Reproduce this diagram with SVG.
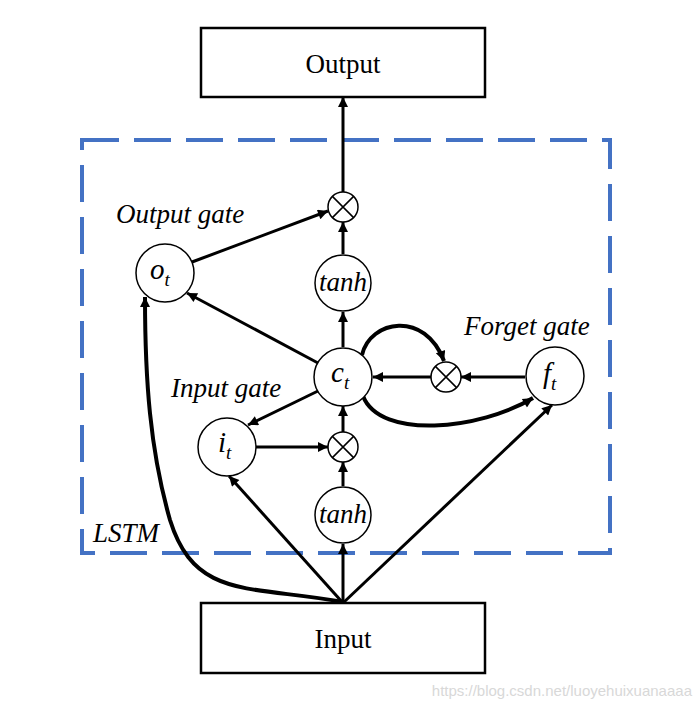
<svg xmlns="http://www.w3.org/2000/svg" width="700" height="708" viewBox="0 0 700 708">
<defs>
<marker id="arr" viewBox="0 0 10 10" refX="10" refY="5" markerWidth="13" markerHeight="10" markerUnits="userSpaceOnUse" orient="auto">
<path d="M0,0 L10,5 L0,10 z" fill="#000"/>
</marker>
<style>
.box{fill:#fff;stroke:#000;stroke-width:2.5}
.nd{fill:#fff;stroke:#000;stroke-width:1.5}
.x{stroke:#000;stroke-width:1.5}
.c{fill:none;stroke:#000;stroke-width:3;marker-end:url(#arr)}
.cb{fill:none;stroke:#000;stroke-width:4;marker-end:url(#arr)}
.t{font-family:"Liberation Serif","Times New Roman",serif;font-size:27px;fill:#000;text-anchor:middle}
.it{font-family:"Liberation Serif","Times New Roman",serif;font-size:27px;font-style:italic;fill:#000}
.nl{font-size:29px}
.sub{font-size:19px}
</style>
</defs>
<rect width="700" height="708" fill="#fff"/>
<g id="lstm">
<rect x="82" y="140" width="528" height="413" fill="none" stroke="#4472C4" stroke-width="4" stroke-dasharray="37 15"/>
<text class="it" x="93" y="542">LSTM</text>
</g>
<g id="connectors">
<line class="c" x1="343" y1="192" x2="343" y2="97"/>
<line class="c" x1="192" y1="262" x2="328" y2="211"/>
<line class="c" x1="343" y1="254" x2="343" y2="222"/>
<line class="c" x1="343" y1="347" x2="343" y2="312"/>
<line class="c" x1="318" y1="363" x2="187" y2="293"/>
<line class="c" x1="318" y1="391" x2="248" y2="425"/>
<line class="c" x1="431" y1="377" x2="373" y2="377"/>
<line class="c" x1="525" y1="377" x2="461" y2="377"/>
<line class="c" x1="256" y1="447" x2="328" y2="447"/>
<line class="c" x1="343" y1="432" x2="343" y2="406"/>
<line class="c" x1="343" y1="486" x2="343" y2="462"/>
<line class="c" x1="343" y1="603" x2="343" y2="544"/>
<line class="c" x1="343" y1="603" x2="229" y2="476"/>
<line class="c" x1="343" y1="603" x2="552" y2="405"/>
<path class="cb" d="M343,602 C250,585 195,600 170,520 C150,450 145,380 145,297"/>
<path class="cb" d="M362,355 C370,320 425,310 444,361"/>
<path class="cb" d="M363,396 C380,440 480,430 533,398"/>
</g>
<g id="output">
<rect class="box" x="201" y="28" width="284" height="69"/>
<text class="t" x="343" y="73">Output</text>
</g>
<g id="input">
<rect class="box" x="201" y="603" width="284" height="70"/>
<text class="t" x="343" y="648">Input</text>
</g>
<g id="mul_out">
<circle class="nd" cx="343" cy="207" r="15"/>
<path class="x" d="M332.4,196.4 L353.6,217.6 M353.6,196.4 L332.4,217.6"/>
</g>
<g id="o_t">
<circle class="nd" cx="165" cy="273" r="29"/>
<text class="it nl" x="150" y="279">o<tspan class="sub" dy="7">t</tspan></text>
</g>
<g id="output_gate_label"><text class="it" x="116" y="223">Output gate</text></g>
<g id="tanh_c">
<circle class="nd" cx="343" cy="283" r="28"/>
<text class="it" x="343" y="291" text-anchor="middle">tanh</text>
</g>
<g id="c_t">
<circle class="nd" cx="343" cy="377" r="29"/>
<text class="it nl" x="331" y="382">c<tspan class="sub" dy="7">t</tspan></text>
</g>
<g id="mul_f">
<circle class="nd" cx="446" cy="377" r="15"/>
<path class="x" d="M435.4,366.4 L456.6,387.6 M456.6,366.4 L435.4,387.6"/>
</g>
<g id="f_t">
<circle class="nd" cx="555" cy="376" r="29"/>
<text class="it nl" x="543" y="383">f<tspan class="sub" dy="7">t</tspan></text>
</g>
<g id="forget_gate_label"><text class="it" x="464" y="335">Forget gate</text></g>
<g id="input_gate_label"><text class="it" x="171" y="397">Input gate</text></g>
<g id="i_t">
<circle class="nd" cx="227" cy="447" r="29"/>
<text class="it nl" x="218" y="452">i<tspan class="sub" dy="7">t</tspan></text>
</g>
<g id="mul_in">
<circle class="nd" cx="343" cy="447" r="15"/>
<path class="x" d="M332.4,436.4 L353.6,457.6 M353.6,436.4 L332.4,457.6"/>
</g>
<g id="tanh_in">
<circle class="nd" cx="343" cy="515" r="28"/>
<text class="it" x="343" y="523" text-anchor="middle">tanh</text>
</g>
<text x="692" y="696" text-anchor="end" font-family="Liberation Sans, Arial, sans-serif" font-size="15" fill="#d8d8d8">https://blog.csdn.net/luoyehuixuanaaaa</text>
</svg>
